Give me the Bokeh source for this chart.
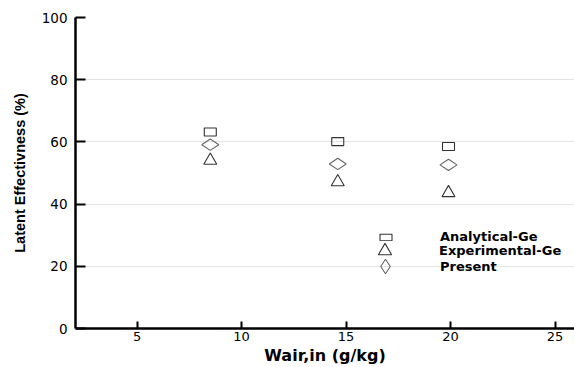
import math
from bokeh.plotting import figure
from bokeh.models import Range1d, FixedTicker, Legend, LegendItem, ColumnDataSource
from bokeh.embed import file_html
from bokeh.resources import INLINE

# ---- data ----
wair = [8.5, 14.6, 19.9]
analytical_ge = [63.2, 60.1, 58.5]
experimental_ge = [54.0, 47.1, 43.6]
present = [59.1, 52.9, 52.6]

series_names = ["Analytical-Ge", "Experimental-Ge", "Present"]
x_ticks = [5, 10, 15, 20, 25]
y_ticks = [0, 20, 40, 60, 80, 100]
x_label = "Wair,in (g/kg)"
y_label = "Latent Effectivness (%)"

src = ColumnDataSource(dict(x=wair, a=analytical_ge, e=experimental_ge, p=present))

p = figure(width=574, height=367, output_backend="svg", toolbar_location=None,
           x_range=Range1d(2.05, 25.93), y_range=Range1d(0, 100),
           min_border_left=75, min_border_right=0, min_border_top=17, min_border_bottom=38)
p.outline_line_color = None
p.background_fill_color = "white"

# grid
p.xgrid.grid_line_color = None
p.ygrid.grid_line_color = "#e3e3e3"
p.ygrid.grid_line_width = 1
p.ygrid.ticker = FixedTicker(ticks=y_ticks)

# axes
p.xaxis.ticker = FixedTicker(ticks=x_ticks)
p.yaxis.ticker = FixedTicker(ticks=y_ticks)
for ax in (p.xaxis[0], p.yaxis[0]):
    ax.axis_line_width = 2.5
    ax.axis_line_color = "black"
    ax.major_tick_line_width = 2
    ax.major_tick_line_color = "black"
    ax.major_tick_out = 0
    ax.minor_tick_line_color = None
    ax.major_label_text_font = "DejaVu Sans"
    ax.major_label_text_color = "black"
    ax.axis_label_text_color = "black"
p.xaxis.major_label_text_font_size = "13px"
p.yaxis.major_label_text_font_size = "13.5px"
p.xaxis.major_tick_in = 7
p.yaxis.major_tick_in = 10
p.xaxis.major_label_standoff = 3
p.yaxis.major_label_standoff = 8

p.xaxis.axis_label = x_label
p.xaxis.axis_label_text_font = "DejaVu Sans"
p.xaxis.axis_label_text_font_style = "bold"
p.xaxis.axis_label_text_font_size = "16px"
p.xaxis.axis_label_standoff = 2

p.yaxis.axis_label = y_label
p.yaxis.axis_label_text_font = "Liberation Sans"
p.yaxis.axis_label_text_font_style = "bold"
p.yaxis.axis_label_text_font_size = "14.5px"
p.yaxis.axis_label_standoff = 11

# markers
r_sq = p.rect("x", "a", width=12, height=8, width_units="screen", height_units="screen",
              source=src, fill_color=None, line_color="#333333", line_width=1.1)
r_tri = p.scatter("x", "e", marker="triangle", size=13, source=src,
                  fill_color=None, line_color="#333333", line_width=1.1)
r_dia = p.scatter("x", "p", marker="diamond", size=17, angle=math.pi / 2, source=src,
                  fill_color=None, line_color="#666666", line_width=1.1)

def make_legend(renderer, name, gw, gh, standoff, loc):
    lg = Legend(items=[LegendItem(label=name, renderers=[renderer])],
                location=loc, glyph_width=gw, glyph_height=gh, label_height=gh,
                label_standoff=standoff, padding=0, margin=0, spacing=0,
                border_line_color=None, background_fill_alpha=0,
                label_text_font="DejaVu Sans", label_text_font_style="bold",
                label_text_font_size="13px", label_text_color="black")
    p.add_layout(lg, "center")
    return lg

make_legend(r_sq, series_names[0], 15, 8, 47, (303, 84))
make_legend(r_tri, series_names[1], 33, 33, 38, (293, 61))
make_legend(r_dia, series_names[2], 36, 36, 37, (292, 44))

open("out.html", "w").write(file_html(p, INLINE))
